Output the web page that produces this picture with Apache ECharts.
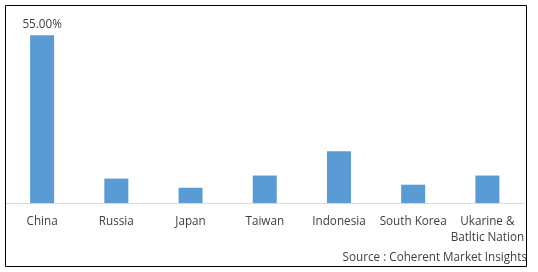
<!DOCTYPE html>
<html>
<head>
<meta charset="utf-8">
<script src="https://cdn.jsdelivr.net/npm/echarts@6/dist/echarts.min.js"></script>
<style>
html,body{margin:0;padding:0;background:#fff;}
#c{width:538px;height:272px;}
</style>
</head>
<body>
<div id="c"></div>
<script>
const categories = ['China', 'Russia', 'Japan', 'Taiwan', 'Indonesia', 'South Korea', 'Ukarine &\nBatltic Nation'];
const values = [55, 8, 5, 9, 17, 6, 9];
const labelled = ['55.00%', '', '', '', '', '', ''];
const sourceText = 'Source : Coherent Market Insights';

const chart = echarts.init(document.getElementById('c'), null, {renderer: 'canvas'});
const FONT = '"Open Sans", sans-serif';
const FS = 11.7;
chart.setOption({
  animation: false,
  backgroundColor: '#ffffff',
  grid: {left: 5, right: 13.5, top: 20, bottom: 69, containLabel: false},
  xAxis: {
    type: 'category',
    data: categories,
    axisLine: {show: true, lineStyle: {color: '#d9d9d9', width: 1}},
    axisTick: {show: false},
    axisLabel: {color: '#404040', fontFamily: FONT, fontSize: FS, margin: 11, lineHeight: 15.5, interval: 0}
  },
  yAxis: {
    type: 'value', min: 0, max: 60, show: false,
    splitLine: {show: false}
  },
  series: [{
    type: 'bar',
    barWidth: 24,
    itemStyle: {color: '#5b9bd5'},
    data: values.map((v, i) => ({
      value: v,
      label: {
        show: labelled[i] !== '',
        position: 'top',
        distance: 5,
        formatter: labelled[i],
        color: '#404040',
        fontFamily: FONT,
        fontSize: FS
      }
    }))
  }],
  graphic: [
    {type: 'rect', shape: {x: 5.5, y: 5.5, width: 521, height: 261}, style: {fill: 'none', stroke: '#000', lineWidth: 1}, z: 100},
    {type: 'text', x: 527, y: 258, style: {text: sourceText, align: 'right', verticalAlign: 'middle', fill: '#404040', font: FS + 'px "Open Sans", sans-serif'}}
  ]
});
</script>
</body>
</html>
